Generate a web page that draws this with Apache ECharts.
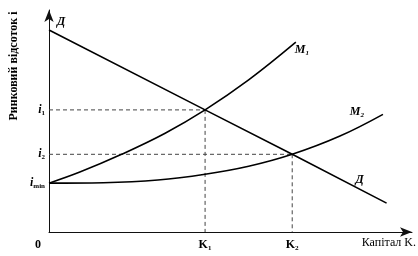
<!DOCTYPE html>
<html><head><meta charset="utf-8">
<script src="https://cdn.jsdelivr.net/npm/echarts@6/dist/echarts.min.js"></script>
<style>html,body{margin:0;padding:0;background:#fff}#c{width:418px;height:256px}</style>
</head><body><div id="c"></div>
<script>
// capital values on x, interest rates on y
const kValues = [4.3, 6.7];
const kLabels = ['K\u2081', 'K\u2082'];
const iValues = [2.2, 3.5, 5.5];
const iLabels = ['{i|i}{s|min}', '{i|i}{s|2}', '{i|i}{s|1}'];
const demandD = [[0, 9.1], [4.3, 5.5], [6.7, 3.5], [9.3, 1.3]];
const supplyM1 = [[0, 2.2], [0.85, 2.7], [2.0, 3.5], [3.2, 4.45], [4.3, 5.5], [5.5, 6.85], [6.8, 8.55]];
const supplyM2 = [[0, 2.2], [1.5, 2.22], [3.0, 2.34], [4.3, 2.6], [5.5, 2.96], [6.7, 3.5], [8.0, 4.31], [9.2, 5.3]];

const serif = 'Liberation Serif';
const lblStyle = {show: true, color: '#000', fontFamily: serif, fontStyle: 'italic', fontWeight: 'bold', fontSize: 12};
const subRich = {m: {fontFamily: serif, fontStyle: 'italic', fontWeight: 'bold', fontSize: 12, color: '#000'},
                 s: {fontFamily: serif, fontWeight: 'bold', fontSize: 7, color: '#000', padding: [6, 0, 0, 0]}};

function withLabels(arr, labels) {
  return arr.map((p, i) => labels[i] ? {value: p, label: Object.assign({}, lblStyle, labels[i])} : p);
}

const dashed = {color: '#444', width: 1, type: [4, 3]};
const guides = [];
kValues.forEach((k, n) => {
  const iv = n === 0 ? iValues[2] : iValues[1];
  guides.push({type: 'line', data: [[0, iv], [k, iv]], symbol: 'none', lineStyle: dashed, silent: true, z: 1});
  guides.push({type: 'line', data: [[k, iv], [k, 0]], symbol: 'none', lineStyle: dashed, silent: true, z: 1});
});

const dLabels = {};
dLabels[0] = {formatter: '\u0414', position: 'right', offset: [3, -8]};
dLabels[demandD.length - 1] = {formatter: '\u0414', position: 'inside', offset: [-27, -23]};
const m1Labels = {};
m1Labels[supplyM1.length - 1] = {formatter: '{m|M}{s|1}', position: 'right', offset: [-6, 8], rich: subRich};
const m2Labels = {};
m2Labels[supplyM2.length - 1] = {formatter: '{m|M}{s|2}', position: 'left', offset: [-14, -2], rich: subRich};

const curve = {type: 'line', symbol: 'circle', symbolSize: 0, showSymbol: true, lineStyle: {color: '#000', width: 1.6}, itemStyle: {color: '#000'}, z: 3, label: {show: false}};

const chart = echarts.init(document.getElementById('c'), null, {renderer: 'canvas'});
chart.setOption({
  animation: false,
  grid: {left: 49, right: 6, top: 10, bottom: 24},
  xAxis: {
    type: 'value', min: 0, max: 10,
    axisLine: {show: true, onZero: false, lineStyle: {color: '#111', width: 1}, symbol: ['none', 'arrow'], symbolSize: [7, 12]},
    axisTick: {show: false}, splitLine: {show: false},
    axisLabel: {customValues: kValues, margin: 7, color: '#000', fontFamily: serif, fontWeight: 'bold', fontSize: 12,
      formatter: v => kLabels[kValues.indexOf(v)]}
  },
  yAxis: {
    type: 'value', min: 0, max: 10,
    axisLine: {show: true, onZero: false, lineStyle: {color: '#111', width: 1}, symbol: ['none', 'arrow'], symbolSize: [7, 12]},
    axisTick: {show: false}, splitLine: {show: false},
    axisLabel: {customValues: iValues, margin: 4, color: '#000',
      formatter: v => iLabels[iValues.indexOf(v)],
      rich: {i: {fontFamily: serif, fontStyle: 'italic', fontWeight: 'bold', fontSize: 12, color: '#000'},
             s: {fontFamily: serif, fontWeight: 'bold', fontSize: 7, color: '#000', padding: [6, 0, 0, 0]}}}
  },
  series: guides.concat([
    Object.assign({}, curve, {data: withLabels(demandD, dLabels)}),
    Object.assign({}, curve, {data: withLabels(supplyM1, m1Labels), smooth: 0.4}),
    Object.assign({}, curve, {data: withLabels(supplyM2, m2Labels), smooth: 0.4})
  ]),
  graphic: [
    {type: 'text', rotation: Math.PI / 2, x: 14, y: 66,
     style: {text: 'Ринковий відсоток i', fontFamily: serif, fontWeight: 'bold', fontSize: 12, fill: '#000', align: 'center', verticalAlign: 'middle'}},
    {type: 'text', x: 38, y: 245, style: {text: '0', fontFamily: serif, fontWeight: 'bold', fontSize: 12, fill: '#000', align: 'center', verticalAlign: 'middle'}},
    {type: 'text', x: 416, y: 243, style: {text: 'Капітал K.', fontFamily: serif, fontSize: 12, fill: '#000', align: 'right', verticalAlign: 'middle'}}
  ]
});
</script></body></html>
